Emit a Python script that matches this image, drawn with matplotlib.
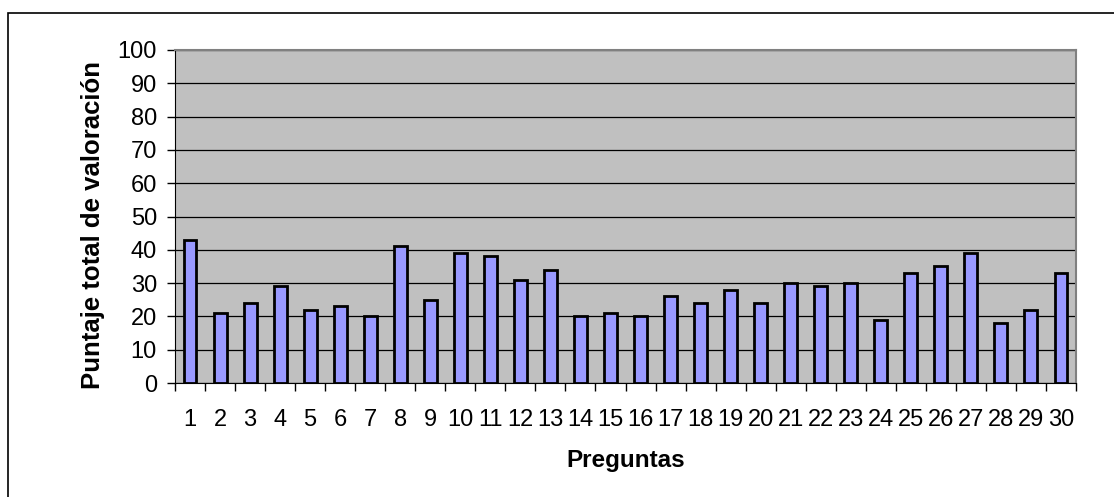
import matplotlib.pyplot as plt
from matplotlib.patches import Rectangle

plt.rcParams['font.family'] = ['Liberation Sans', 'DejaVu Sans']

# Data
preguntas = list(range(1, 31))
puntajes = [43, 21, 24, 29, 22, 23, 20, 41, 25, 39,
            38, 31, 34, 20, 21, 20, 26, 24, 28, 24,
            30, 29, 30, 19, 33, 35, 39, 18, 22, 33]
y_ticks = list(range(0, 101, 10))

fig = plt.figure(figsize=(11.14, 4.97), dpi=100)

# outer chart frame (clipped on right and bottom like the original)
fig.patches.append(Rectangle((8 / 1114, -0.05), 1.2, 1 - 13 / 497 + 0.05,
                             transform=fig.transFigure, fill=False,
                             edgecolor='black', linewidth=1.2))

ax = fig.add_axes([175 / 1114, 1 - 383 / 497, (1076 - 175) / 1114, (383 - 50) / 497])
ax.set_facecolor('#C0C0C0')

ax.bar(preguntas, puntajes, width=0.43, color='#9999FF',
       edgecolor='black', linewidth=2.0, zorder=3)

ax.set_xlim(0.5, 30.5)
ax.set_ylim(0, 100)
ax.set_yticks(y_ticks)
ax.yaxis.grid(True, color='black', linewidth=0.9, zorder=1)
ax.set_axisbelow(True)

# ticks between categories, labels at centres
ax.set_xticks([i + 0.5 for i in range(0, 31)], minor=False)
ax.set_xticklabels([])
ax.set_xticks(preguntas, minor=True)
ax.set_xticklabels([str(p) for p in preguntas], minor=True)
ax.tick_params(axis='x', which='major', direction='out', length=6, width=1, color='black')
ax.tick_params(axis='x', which='minor', length=0, pad=19, labelsize=17)
ax.tick_params(axis='y', direction='out', length=6, width=1, pad=7, labelsize=17)

for side in ['top', 'right']:
    ax.spines[side].set_color('#808080')
    ax.spines[side].set_linewidth(1.5)
ax.spines['left'].set_color('black')
ax.spines['bottom'].set_color('black')

ax.set_xlabel('Preguntas', fontsize=17.5, fontweight='bold', labelpad=13)
ax.set_ylabel('Puntaje total de valoración', fontsize=18.5, fontweight='bold')
ax.yaxis.set_label_coords(-70 / 901, 0.475)

fig.savefig('out.png', dpi=100)
